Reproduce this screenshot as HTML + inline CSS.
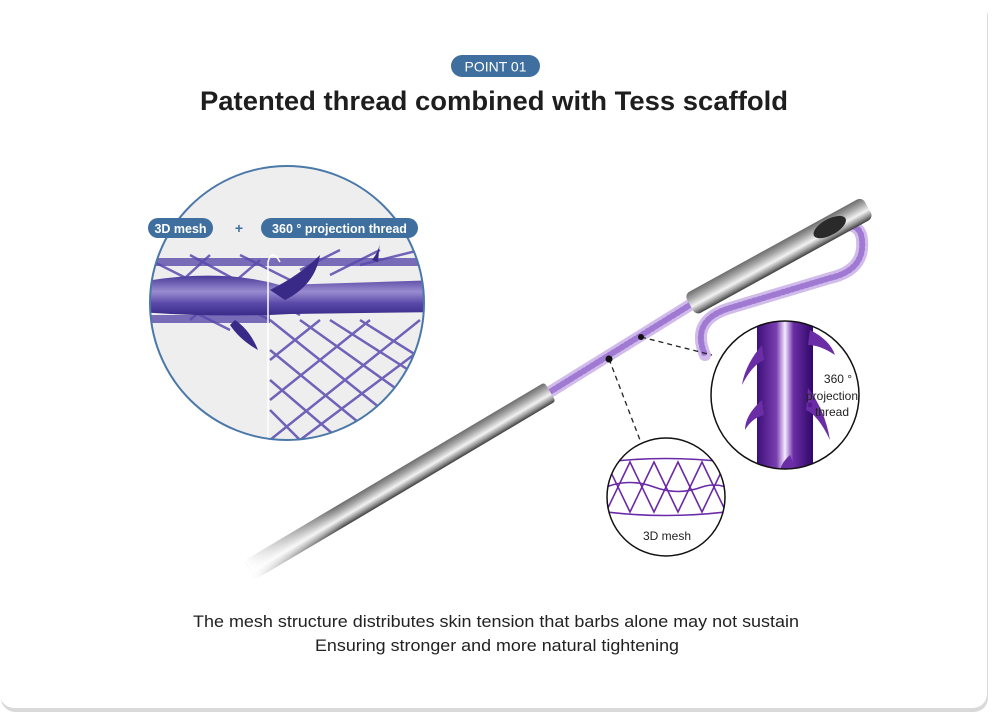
<!DOCTYPE html>
<html><head><meta charset="utf-8"><style>
html,body{margin:0;padding:0;background:#fff;width:993px;height:717px;overflow:hidden}
svg{display:block}
text{font-family:"Liberation Sans",sans-serif}
</style></head><body>
<svg width="993" height="717" viewBox="0 0 993 717" xmlns="http://www.w3.org/2000/svg">
<defs>
<linearGradient id="tube" x1="0" y1="0" x2="0" y2="1">
<stop offset="0" stop-color="#6d6d6d"/><stop offset="0.3" stop-color="#a9a9a9"/><stop offset="0.6" stop-color="#f2f2f2"/><stop offset="0.85" stop-color="#8a8a8a"/><stop offset="1" stop-color="#3c3c3c"/>
</linearGradient>
<linearGradient id="fade" x1="0" y1="0" x2="1" y2="0">
<stop offset="0" stop-color="#fff" stop-opacity="1"/><stop offset="0.3" stop-color="#fff" stop-opacity="0"/>
</linearGradient>
<linearGradient id="vbar" x1="0" y1="0" x2="1" y2="0">
<stop offset="0" stop-color="#3d0f7a"/><stop offset="0.35" stop-color="#7a3fb0"/><stop offset="0.5" stop-color="#f4eaff"/><stop offset="0.65" stop-color="#6b2da6"/><stop offset="1" stop-color="#2e0868"/>
</linearGradient>
<linearGradient id="htube" x1="0" y1="0" x2="0" y2="1">
<stop offset="0" stop-color="#4a3a9a"/><stop offset="0.4" stop-color="#9a8cd0"/><stop offset="0.7" stop-color="#5848a8"/><stop offset="1" stop-color="#3a2a88"/>
</linearGradient>
<clipPath id="cl"><circle cx="287" cy="303" r="137"/></clipPath>
<clipPath id="cr"><circle cx="785" cy="395" r="74"/></clipPath>
<clipPath id="cs"><circle cx="666" cy="497" r="59"/></clipPath>
</defs>
<rect x="1" y="3" width="987" height="709" rx="14" fill="#d9d9d9"/>
<rect x="0" y="0" width="987" height="708" rx="14" fill="#fff"/>

<rect x="451" y="55" width="89" height="22" rx="11" fill="#3f6f9f"/>
<text x="495.5" y="71.5" font-size="14" fill="#fff" text-anchor="middle">POINT 01</text>
<text x="200" y="110" font-size="27" font-weight="bold" fill="#1e1e1e" textLength="588" lengthAdjust="spacingAndGlyphs">Patented thread combined with Tess scaffold</text>

<!-- left circle -->
<circle cx="287" cy="303" r="137" fill="#efeeee"/>
<g clip-path="url(#cl)">
<g stroke="#6f62b8" stroke-width="2.5" fill="none">
<path d="M270 320 L420 440 M270 350 L380 440 M270 380 L340 440 M300 320 L440 420 M330 320 L440 390 M360 320 L440 370 M270 410 L300 440"/>
<path d="M270 440 L420 320 M270 400 L370 320 M270 360 L320 320 M300 440 L440 335 M340 440 L440 365 M380 440 L440 400"/>
<path d="M150 260 L270 320 M150 290 L230 330 M190 255 L300 315 M240 255 L330 300 M150 310 L210 255 M190 320 L260 260 M300 270 L340 250 M330 275 L380 250 M360 265 L420 250"/>
</g>
<rect x="140" y="258" width="300" height="8" fill="#5a4aaa" opacity="0.8"/>
<path d="M140 282 Q220 268 280 285 L440 280 L440 312 L290 314 Q220 318 140 312 Z" fill="url(#htube)"/>
<rect x="140" y="315" width="130" height="8" fill="#5a4aaa" opacity="0.8"/>
<path d="M270 290 Q300 275 320 255 Q315 285 285 300 Z" fill="#3a2a88"/>
<path d="M235 320 Q250 330 258 350 Q240 340 230 325 Z" fill="#3a2a88"/>
<path d="M372 260 Q380 250 380 240 L378 262 Z" fill="#3a2a88"/>
<path d="M268 440 L268 262 Q272 248 280 262" stroke="#fff" stroke-width="1.5" fill="none"/>
</g>
<circle cx="287" cy="303" r="137" fill="none" stroke="#4a78a8" stroke-width="2"/>
<rect x="148" y="218" width="65" height="20" rx="10" fill="#3f6f9f"/>
<text x="180.5" y="233" font-size="12.5" font-weight="bold" fill="#fff" text-anchor="middle">3D mesh</text>
<text x="239" y="233" font-size="14" font-weight="bold" fill="#3f6f9f" text-anchor="middle">+</text>
<rect x="261" y="218" width="157" height="20" rx="10" fill="#3f6f9f"/>
<text x="339.5" y="233" font-size="12.5" font-weight="bold" fill="#fff" text-anchor="middle">360 ° projection thread</text>

<!-- thread -->
<g fill="none" stroke-linecap="round">
<path d="M545 395 L690 305" stroke="#c4aae6" stroke-width="12" opacity="0.8"/>
<path d="M545 395 L690 305" stroke="#8a5cc8" stroke-width="6" stroke-dasharray="2 3" opacity="0.7"/>
<path d="M820 232 Q860 215 862 240 Q865 270 830 278 L730 308 Q690 320 705 355" stroke="#c4aae6" stroke-width="12" opacity="0.8"/>
<path d="M820 232 Q860 215 862 240 Q865 270 830 278 L730 308 Q690 320 705 355" stroke="#8a5cc8" stroke-width="6" stroke-dasharray="2 3" opacity="0.7"/>
</g>
<!-- lower tube -->
<g transform="translate(250,570) rotate(-30.7)">
<rect x="0" y="-11" width="349" height="22" rx="3" fill="url(#tube)"/>
<rect x="0" y="-12" width="349" height="24" fill="url(#fade)"/>
</g>
<!-- upper tube -->
<g transform="translate(690,305) rotate(-28.8)">
<rect x="0" y="-12" width="203" height="24" rx="6" fill="url(#tube)"/>
<ellipse cx="160" cy="-1" rx="18" ry="8" fill="#2a2a2a"/>
</g>

<!-- dashes -->
<path d="M641 337 L712 355 M609 359 L640 440" stroke="#222" stroke-width="1.3" stroke-dasharray="5 4" fill="none"/>
<circle cx="641" cy="337" r="3" fill="#111"/>
<circle cx="609" cy="359" r="3.5" fill="#111"/>

<!-- right circle -->
<circle cx="785" cy="395" r="74" fill="#fff"/>
<g clip-path="url(#cr)">
<rect x="757" y="310" width="56" height="170" fill="url(#vbar)"/>
<path d="M762 345 Q745 365 742 385 Q752 365 764 360 Z M810 330 Q830 340 835 355 Q820 345 808 345 Z M762 400 Q745 415 745 430 Q752 418 764 415 Z M808 388 Q825 410 830 440 Q818 415 806 410 Z M790 455 Q782 462 780 470 L796 470 Z" fill="#6b2da6"/>
</g>
<circle cx="785" cy="395" r="74" fill="none" stroke="#111" stroke-width="1.5"/>
<circle cx="810" cy="405" r="2.5" fill="#5a1a90"/>
<text x="838" y="383" font-size="12" fill="#222" text-anchor="middle">360 °</text>
<text x="832" y="400" font-size="12" fill="#222" text-anchor="middle">projection</text>
<text x="832" y="416" font-size="12" fill="#222" text-anchor="middle">thread</text>

<!-- small circle -->
<circle cx="666" cy="497" r="59" fill="#fff"/>
<g clip-path="url(#cs)" stroke="#6a2aa8" stroke-width="1.6" fill="none">
<path d="M606 462 Q666 455 726 462 M606 512 Q666 519 726 512"/>
<path d="M606 462 Q618 487 630 512 Q642 487 654 462 Q666 487 678 512 Q690 487 702 462 Q714 487 726 512"/>
<path d="M606 512 Q618 487 630 462 Q642 487 654 512 Q666 487 678 462 Q690 487 702 512 Q714 487 726 462"/>
<path d="M606 487 Q630 478 654 487 Q678 496 702 487 Q714 483 726 487"/>
</g>
<circle cx="666" cy="497" r="59" fill="none" stroke="#111" stroke-width="1.5"/>
<text x="667" y="540" font-size="12" fill="#222" text-anchor="middle">3D mesh</text>

<text x="496" y="627" font-size="17" fill="#222" text-anchor="middle" textLength="606" lengthAdjust="spacingAndGlyphs">The mesh structure distributes skin tension that barbs alone may not sustain</text>
<text x="497" y="651" font-size="17" fill="#222" text-anchor="middle" textLength="364" lengthAdjust="spacingAndGlyphs">Ensuring stronger and more natural tightening</text>
</svg>
</body></html>
